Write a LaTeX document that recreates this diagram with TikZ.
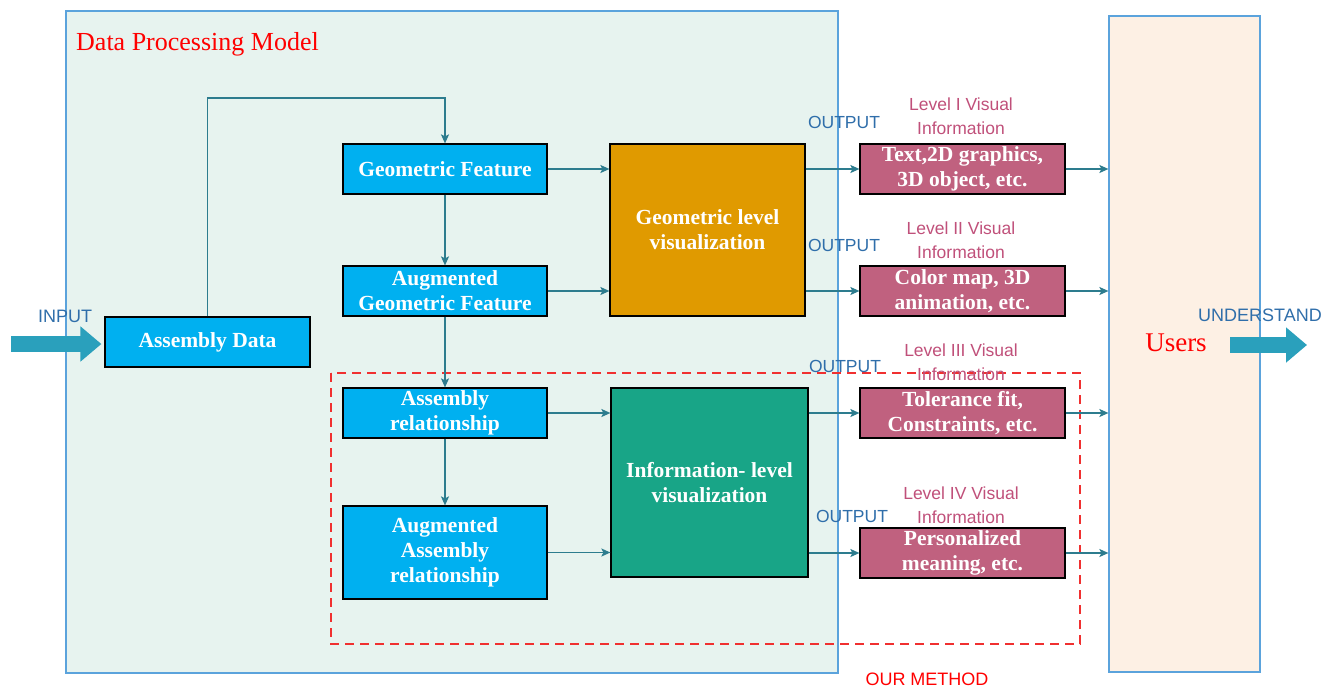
\documentclass[tikz,border=0pt]{standalone}
\usepackage{fontspec}
\setmainfont{Liberation Serif}
\setsansfont{Liberation Sans}
\usetikzlibrary{arrows.meta}
\definecolor{panel}{HTML}{E7F3EF}
\definecolor{panelline}{HTML}{5BA3DC}
\definecolor{userfill}{HTML}{FDF0E4}
\definecolor{cblue}{HTML}{00B0F0}
\definecolor{corange}{HTML}{E09A00}
\definecolor{cteal}{HTML}{18A587}
\definecolor{cpink}{HTML}{C0617F}
\definecolor{cconn}{HTML}{2D7C8E}
\definecolor{cbig}{HTML}{2AA0BC}
\definecolor{outblue}{HTML}{2F6EAA}
\definecolor{lvlpink}{HTML}{C0507A}
\definecolor{dred}{HTML}{F03030}
\begin{document}
\begin{tikzpicture}[x=1pt,y=-1pt,
  box/.style={draw=black, line width=1.2pt, text=white, font=\bfseries\fontsize{21.5}{25}\selectfont, align=center, inner sep=0pt},
  bluebox/.style={box, fill=cblue, minimum width=204pt, minimum height=50pt},
  pinkbox/.style={box, fill=cpink, minimum width=205pt, minimum height=50pt},
  conn/.style={draw=cconn, line width=1.5pt, -{Stealth[length=9pt,width=8pt,inset=2pt]}},
  outlbl/.style={text=outblue, font=\sffamily\fontsize{17.5}{20}\selectfont, inner sep=0pt},
  lvl/.style={text=lvlpink, font=\sffamily\fontsize{17.5}{24}\selectfont, align=center, inner sep=0pt},
  bigarrow/.style={draw=cbig, line width=16pt, -{Triangle[length=21pt,width=34pt]}}
]
\useasboundingbox (0,0) rectangle (1334,689);
% panels
\node[draw=panelline, fill=panel, line width=1.2pt, minimum width=772pt, minimum height=662pt, inner sep=0pt] (panel) at (452,342) {};
\node[draw=panelline, fill=userfill, line width=1.2pt, minimum width=151pt, minimum height=656pt, inner sep=0pt] (users) at (1184.5,344) {};
\node[anchor=west, text=red, font=\fontsize{26}{30}\selectfont, inner sep=0pt] (dpm) at (76,44) {Data Processing Model};
\node[text=red, font=\fontsize{27}{30}\selectfont, inner sep=0pt] (ulbl) at (1176,343) {Users};
% dashed method box
\draw[dred, line width=1.2pt, dash pattern=on 9pt off 6pt] (331,373) rectangle (1080,644);
\node[text=red, font=\sffamily\fontsize{18}{20}\selectfont, inner sep=0pt] (ourm) at (927,679) {OUR METHOD};
% blue boxes
\node[bluebox, minimum width=205pt] (ad) at (207.5,342) {Assembly Data};
\node[bluebox] (gf) at (445,169) {Geometric Feature};
\node[bluebox] (agf) at (445,291) {Augmented\\Geometric Feature};
\node[bluebox] (ar) at (445,413) {Assembly\\relationship};
\node[bluebox, minimum height=93pt] (aar) at (445,552.5) {Augmented\\Assembly\\relationship};
% vis boxes
\node[box, fill=corange, minimum width=195pt, minimum height=172pt] (glv) at (707.5,230) {Geometric level\\visualization};
\node[box, fill=cteal, minimum width=197pt, minimum height=189pt] (ilv) at (709.5,482.5) {Information- level\\visualization};
% pink boxes
\node[pinkbox] (p1) at (962.5,169) {Text,2D graphics,\\3D object, etc.};
\node[pinkbox] (p2) at (962.5,291) {Color map, 3D\\animation, etc.};
\node[pinkbox] (p3) at (962.5,413) {Tolerance fit,\\Constraints, etc.};
\node[pinkbox] (p4) at (962.5,553) {Personalized\\meaning, etc.};
% labels
\node[outlbl] (o1) at (844,122) {OUTPUT};
\node[outlbl] (o2) at (844,245) {OUTPUT};
\node[outlbl] (o3) at (845,366) {OUTPUT};
\node[outlbl] (o4) at (852,516) {OUTPUT};
\node[lvl] (l1) at (961,116) {Level I Visual\\Information};
\node[lvl] (l2) at (961,240.5) {Level II Visual\\Information};
\node[lvl] (l3) at (961,362) {Level III Visual\\Information};
\node[lvl] (l4) at (961,505.5) {Level IV Visual\\Information};
\node[outlbl, font=\sffamily\fontsize{18}{20}\selectfont] (inl) at (65,316) {INPUT};
\node[outlbl, font=\sffamily\fontsize{18}{20}\selectfont] (undl) at (1260,315) {UNDERSTAND};
% connectors
\coordinate (topy) at (0,98);
\draw[conn] (ad.north) -- (ad.north |- topy) -| (gf.north);
\draw[conn] (gf.south) -- (agf.north);
\draw[conn] (agf.south) -- (ar.north);
\draw[conn] (ar.south) -- (aar.north);
\draw[conn] (gf.east) -- (gf.east -| glv.west);
\draw[conn] (agf.east) -- (agf.east -| glv.west);
\draw[conn] (ar.east) -- (ar.east -| ilv.west);
\draw[conn] (aar.east) -- (aar.east -| ilv.west);
\draw[conn] (p1.west -| glv.east) -- (p1.west);
\draw[conn] (p2.west -| glv.east) -- (p2.west);
\draw[conn] (p3.west -| ilv.east) -- (p3.west);
\draw[conn] (p4.west -| ilv.east) -- (p4.west);
\draw[conn] (p1.east) -- (p1.east -| users.west);
\draw[conn] (p2.east) -- (p2.east -| users.west);
\draw[conn] (p3.east) -- (p3.east -| users.west);
\draw[conn] (p4.east) -- (p4.east -| users.west);
% big arrows
\coordinate (instart) at (11,344);
\draw[bigarrow, shorten >=3pt] (instart) -- (ad.west |- instart);
\coordinate (us) at (1230,345);
\coordinate (ue) at (1307,345);
\draw[bigarrow] (us) -- (ue);
\end{tikzpicture}
\end{document}
